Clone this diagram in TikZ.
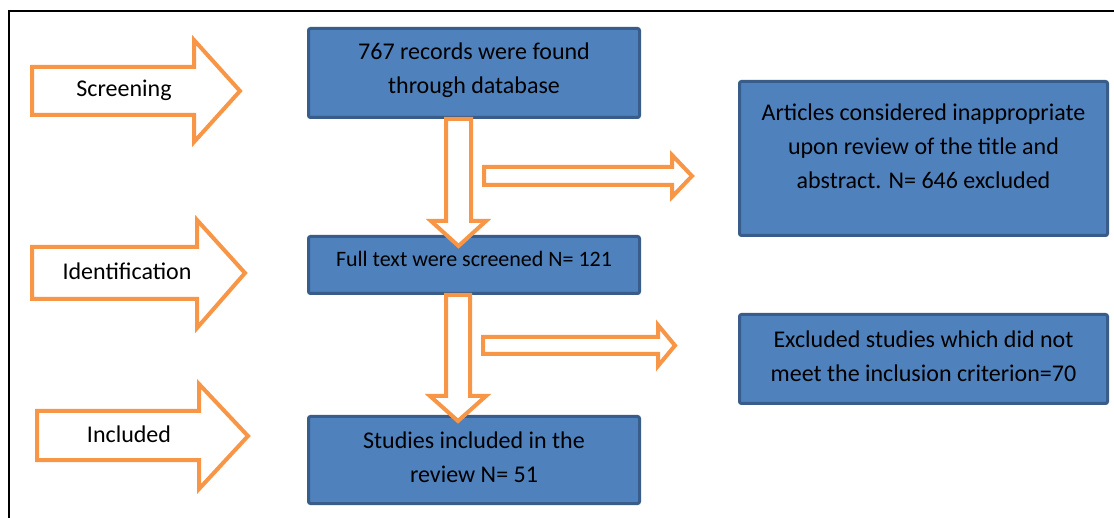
\documentclass[tikz,border=0pt]{standalone}
\usepackage{fontspec}
\setmainfont{Carlito}
\usetikzlibrary{calc}
\definecolor{boxfill}{HTML}{4F81BD}
\definecolor{boxline}{HTML}{385D8A}
\definecolor{arrorange}{HTML}{F79646}
\tikzset{
  box/.style={draw=boxline,fill=boxfill,line width=3pt,rounded corners=2pt,
    align=center,text=black,font=\fontsize{24}{34}\selectfont},
  blk/.style={draw=arrorange,fill=white,line width=4pt,line join=miter},
  lbl/.style={text=black,font=\fontsize{24}{34}\selectfont}
}
\begin{document}
\begin{tikzpicture}[x=1pt,y=-1pt]
\useasboundingbox (0,0) rectangle (1114,518);
\draw[line width=2pt] (1114,11) -- (9,11) -- (9,518);
% stage arrows
\draw[blk] (32,67) -- (194,67) -- (194,40) -- (240,91) -- (194,142) -- (194,115) -- (32,115) -- cycle;
\node (scr) at (124,90) [lbl] {Screening};
\draw[blk] (32,247) -- (197,247) -- (197,220) -- (245,273) -- (197,328) -- (197,299) -- (32,299) -- cycle;
\node (ident) at (127,271) [lbl] {Identification};
\draw[blk] (37,411) -- (199,411) -- (199,384) -- (248,436) -- (199,489) -- (199,460) -- (37,460) -- cycle;
\node (inc) at (129,434) [lbl] {Included};
% boxes
\node (rec) at (474,73) [box,minimum width=331,minimum height=89,text depth=10pt] {767 records were found\\through database};
\node (full) at (474,265) [box,minimum width=331,minimum height=57,text depth=12pt,font=\fontsize{22}{30}\selectfont] {Full text were screened N= 121};
\node (incl) at (474,460) [box,minimum width=331,minimum height=87,text depth=6pt] {Studies included in the\\review N= 51};
\node (excl1) at (923.5,158.5) [box,minimum width=368,minimum height=154] {Articles considered inappropriate\\upon review of the title and\\abstract. N= 646 excluded\\[-10pt]\mbox{}};
\node (excl2) at (923.5,359) [box,minimum width=368,minimum height=89,text depth=6pt] {Excluded studies which did not\\meet the inclusion criterion=70};
% flow arrows
\draw[blk] let \p1=(rec.south), \p2=(full.north) in
  (\x1-28,\y1) -- (\x1-28,\y2+14) -- (\x1-43,\y2+14) -- (\x1-15.5,\y2-11)
  -- (\x1+12,\y2+14) -- (\x1-3,\y2+14) -- (\x1-3,\y1) -- cycle;
\draw[blk] let \p1=(full.south), \p2=(incl.north) in
  (\x1-28,\y1) -- (\x1-28,\y2+19) -- (\x1-44,\y2+19) -- (\x1-16,\y2-6)
  -- (\x1+12,\y2+19) -- (\x1-4,\y2+19) -- (\x1-4,\y1) -- cycle;
\draw[blk] let \p1=(rec.south), \p2=(full.north), \p3=(excl1.west), \p4=($(\p1)!.5!(\p2)$) in
  (\x1+10,\y4+10) -- (\x3-66,\y4+10) -- (\x3-66,\y4+22) -- (\x3-46,\y4+1)
  -- (\x3-66,\y4-20) -- (\x3-66,\y4-8) -- (\x1+10,\y4-8) -- cycle;
\draw[blk] let \p1=(full.south), \p2=(incl.north), \p3=(excl2.west), \p4=($(\p1)!.5!(\p2)$) in
  (\x1+9,\y4+18) -- (\x3-80,\y4+18) -- (\x3-80,\y4+30) -- (\x3-63,\y4+9.5)
  -- (\x3-80,\y4-11) -- (\x3-80,\y4+1) -- (\x1+9,\y4+1) -- cycle;
\end{tikzpicture}
\end{document}
